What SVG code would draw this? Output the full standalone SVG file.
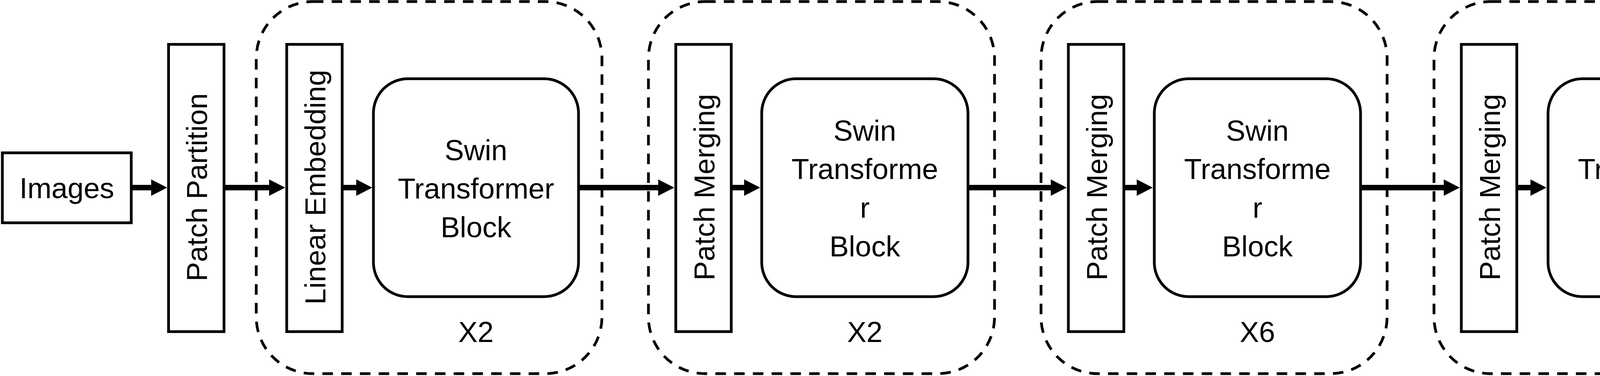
<svg xmlns="http://www.w3.org/2000/svg" width="4707" height="962" viewBox="0 0 4707 962">
  <style>
    .box { fill: #ffffff; stroke: #000000; stroke-width: 7; }
    .grp { fill: none; stroke: #000000; stroke-width: 7; stroke-dasharray: 27 21; }
    .lbl { font-family: "Liberation Sans", Arial, sans-serif; font-size: 74px; fill: #000000; text-anchor: middle; }
    .conn { fill: none; stroke: #000000; stroke-width: 14; marker-end: url(#arrow); }
  </style>
  <defs>
    <marker id="arrow" markerUnits="userSpaceOnUse" markerWidth="42" markerHeight="42" refX="1" refY="21" orient="auto" viewBox="0 0 42 42">
      <path d="M0,0 L41,21 L0,42 Z" fill="#000000"/>
    </marker>
  </defs>
  <rect width="4707" height="962" fill="#ffffff"/>

  <g id="stage1-group"><rect class="grp" x="656" y="4" width="885" height="952" rx="145" ry="145"/></g>
  <g id="stage2-group"><rect class="grp" x="1660" y="4" width="886" height="952" rx="145" ry="145"/></g>
  <g id="stage3-group"><rect class="grp" x="2665" y="4" width="886" height="952" rx="145" ry="145"/></g>
  <g id="stage4-group"><rect class="grp" x="3671" y="4" width="886" height="952" rx="145" ry="145"/></g>

  <g id="connectors">
    <path class="conn" d="M336,480 H388"/>
    <path class="conn" d="M573,480 H690"/>
    <path class="conn" d="M876,480 H913"/>
    <path class="conn" d="M1481,480 H1686"/>
    <path class="conn" d="M1872,480 H1906"/>
    <path class="conn" d="M2478,480 H2691"/>
    <path class="conn" d="M2877,480 H2911"/>
    <path class="conn" d="M3483,480 H3697"/>
    <path class="conn" d="M3883,480 H3919"/>
    <path class="conn" d="M4491,480 H4623"/>
  </g>

  <g id="images">
    <rect class="box" x="6" y="391" width="330" height="179"/>
    <text class="lbl" x="171" y="507">Images</text>
  </g>

  <g id="patch-partition">
    <rect class="box" x="431.5" y="113.5" width="142" height="735"/>
    <text class="lbl" transform="translate(530,479) rotate(-90)">Patch Partition</text>
  </g>

  <g id="linear-embedding">
    <rect class="box" x="734" y="113.5" width="142" height="735"/>
    <text class="lbl" transform="translate(833,479) rotate(-90)">Linear Embedding</text>
  </g>

  <g id="swin-block-1">
    <rect class="box" x="956" y="201.5" width="525" height="557.5" rx="88" ry="88"/>
    <text class="lbl" x="1218.5" y="410">Swin</text>
    <text class="lbl" x="1218.5" y="508">Transformer</text>
    <text class="lbl" x="1218.5" y="607">Block</text>
  </g>
  <g id="repeat-1"><text class="lbl" x="1218.5" y="875">X2</text></g>

  <g id="patch-merging-2">
    <rect class="box" x="1730" y="113.5" width="142" height="735"/>
    <text class="lbl" transform="translate(1829,479) rotate(-90)">Patch Merging</text>
  </g>

  <g id="swin-block-2">
    <rect class="box" x="1950" y="201.5" width="528" height="557.5" rx="88" ry="88"/>
    <text class="lbl" x="2214" y="360">Swin</text>
    <text class="lbl" x="2214" y="458">Transforme</text>
    <text class="lbl" x="2214" y="557">r</text>
    <text class="lbl" x="2214" y="656">Block</text>
  </g>
  <g id="repeat-2"><text class="lbl" x="2214" y="875">X2</text></g>

  <g id="patch-merging-3">
    <rect class="box" x="2735" y="113.5" width="142" height="735"/>
    <text class="lbl" transform="translate(2834,479) rotate(-90)">Patch Merging</text>
  </g>

  <g id="swin-block-3">
    <rect class="box" x="2955" y="201.5" width="528" height="557.5" rx="88" ry="88"/>
    <text class="lbl" x="3219" y="360">Swin</text>
    <text class="lbl" x="3219" y="458">Transforme</text>
    <text class="lbl" x="3219" y="557">r</text>
    <text class="lbl" x="3219" y="656">Block</text>
  </g>
  <g id="repeat-3"><text class="lbl" x="3219" y="875">X6</text></g>

  <g id="patch-merging-4">
    <rect class="box" x="3741" y="113.5" width="142" height="735"/>
    <text class="lbl" transform="translate(3840,479) rotate(-90)">Patch Merging</text>
  </g>

  <g id="swin-block-4">
    <rect class="box" x="3963" y="201.5" width="528" height="557.5" rx="88" ry="88"/>
    <text class="lbl" x="4227" y="360">Swin</text>
    <text class="lbl" x="4227" y="458">Transforme</text>
    <text class="lbl" x="4227" y="557">r</text>
    <text class="lbl" x="4227" y="656">Block</text>
  </g>
  <g id="repeat-4"><text class="lbl" x="4227" y="875">X2</text></g>
</svg>
